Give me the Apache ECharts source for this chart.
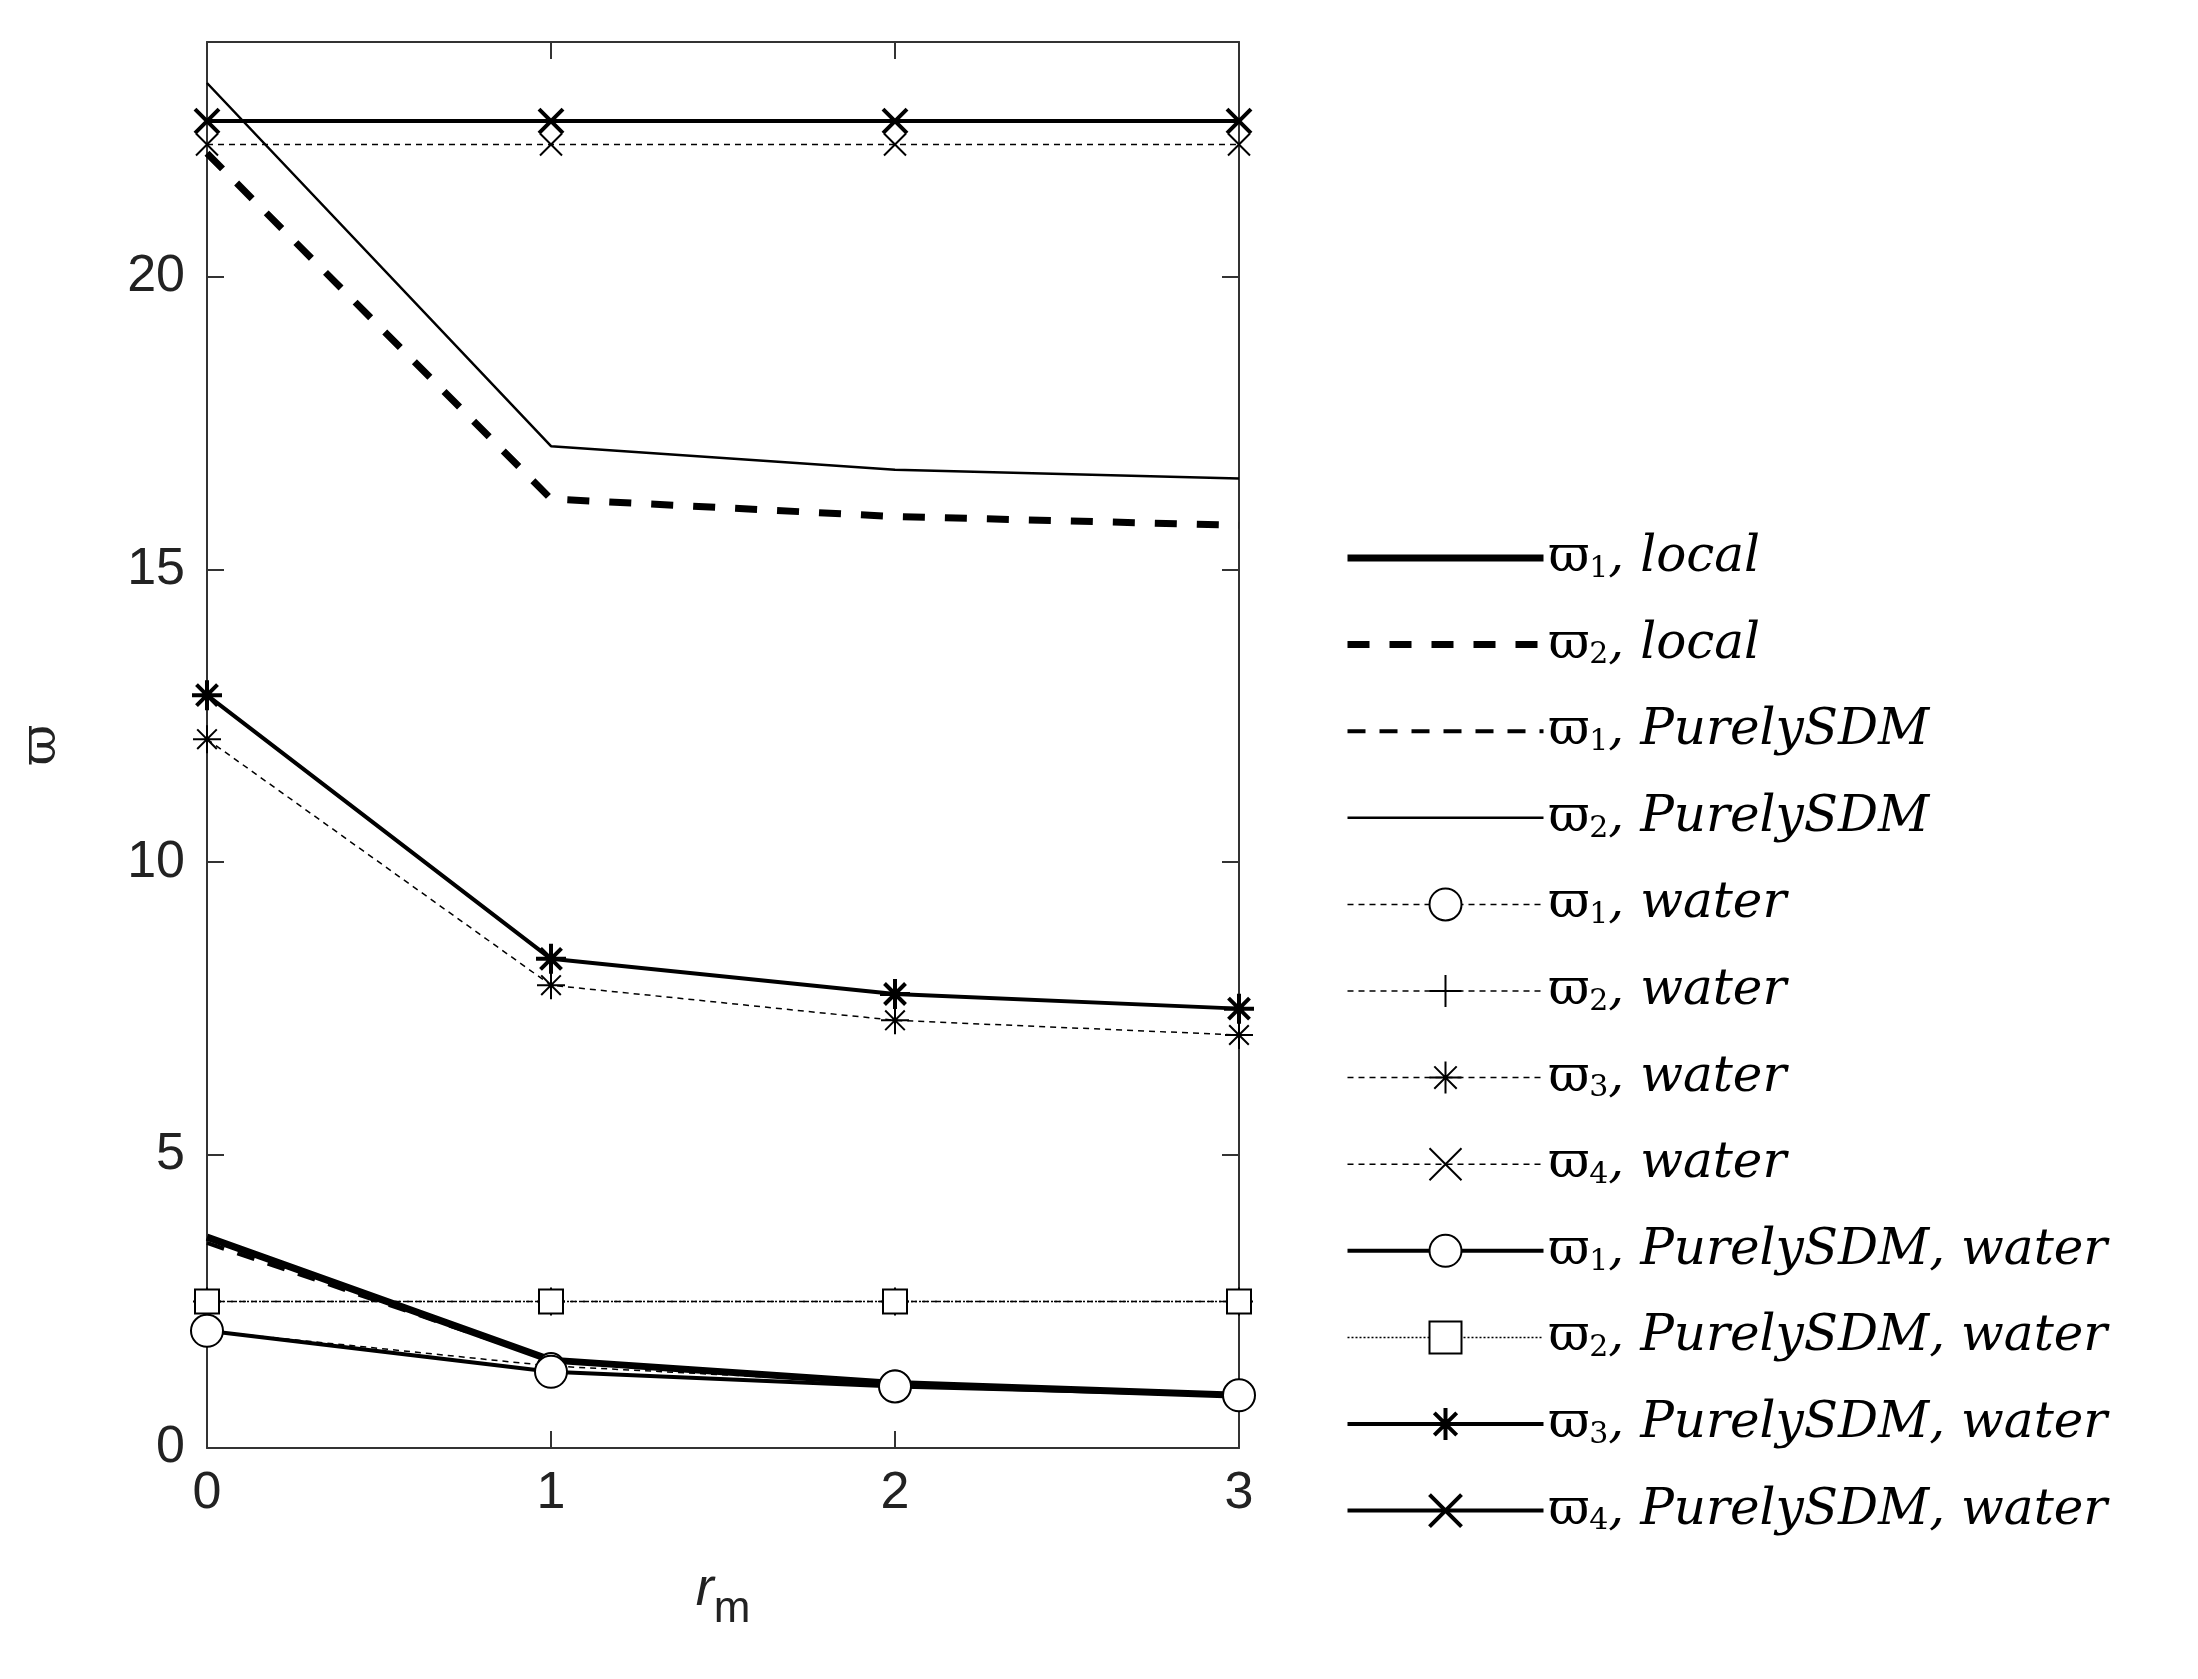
<!DOCTYPE html>
<html><head><meta charset="utf-8">
<script src="https://cdn.jsdelivr.net/npm/echarts@6/dist/echarts.min.js"></script>
<style>html,body{margin:0;background:#fff}#c{width:2198px;height:1679px}</style>
</head><body><div id="c"></div>
<script>
const rm = [0, 1, 2, 3];
const w1Local = [3.6, 1.5, 1.1, 0.9];
const w2Local = [22.1, 16.2, 15.9, 15.75];
const w1Pure = [3.5, 1.5, 1.1, 0.9];
const w2Pure = [23.3, 17.1, 16.7, 16.55];
const w1Water = [2.0, 1.4, 1.1, 0.9];
const w2Water = [2.5, 2.5, 2.5, 2.5];
const w3Water = [12.1, 7.9, 7.3, 7.05];
const w4Water = [22.25, 22.25, 22.25, 22.25];
const w1PW = [2.0, 1.3, 1.05, 0.9];
const w2PW = [2.5, 2.5, 2.5, 2.5];
const w3PW = [12.85, 8.35, 7.75, 7.5];
const w4PW = [22.65, 22.65, 22.65, 22.65];
const yTicks = [0, 5, 10, 15, 20];

const pts = a => rm.map((x, i) => [x, a[i]]);
const PLUS = 'path://M5 0L5 10M0 5L10 5';
const STAR = 'path://M5 0L5 10M0 5L10 5M1.5 1.5L8.5 8.5M1.5 8.5L8.5 1.5';
const XS = 'path://M0 0L10 10M0 10L10 0';
const legendData = [];
function s(name, data, lw, type, sym, size, bw) {
  const ls = {color: '#000', width: lw, type: type};
  const is = {color: '#000', borderColor: '#000', borderWidth: bw || 2};
  legendData.push({name, lineStyle: ls, itemStyle: sym ? is : {opacity: 0, borderWidth: 0}});
  return {
    name, type: 'line', data: pts(data), animation: false,
    lineStyle: ls, symbol: sym || 'none', symbolSize: size || 0, showSymbol: !!sym,
    itemStyle: is, z: 3
  };
}
function lbl(k, txt) { return '{o|ϖ}{s|' + k + '}{t|, ' + txt + '}'; }
const series = [
  s(lbl(1, 'local'), w1Local, 7, 'solid'),
  s(lbl(2, 'local'), w2Local, 7, [22, 20]),
  s(lbl(1, 'PurelySDM'), w1Pure, 4, [18, 14]),
  s(lbl(2, 'PurelySDM'), w2Pure, 2.5, 'solid'),
  s(lbl(1, 'water'), w1Water, 1.5, [6, 5], 'emptyCircle', 26, 1.5),
  s(lbl(2, 'water'), w2Water, 1.5, [6, 5], PLUS, 28, 2),
  s(lbl(3, 'water'), w3Water, 1.5, [6, 5], STAR, 28, 2),
  s(lbl(4, 'water'), w4Water, 1.5, [6, 5], XS, 22, 2),
  s(lbl(1, 'PurelySDM, water'), w1PW, 4, 'solid', 'emptyCircle', 32, 4),
  s(lbl(2, 'PurelySDM, water'), w2PW, 1.5, [2, 2], 'emptyRect', 24, 1.5),
  s(lbl(3, 'PurelySDM, water'), w3PW, 4, 'solid', STAR, 30, 4),
  s(lbl(4, 'PurelySDM, water'), w4PW, 4, 'solid', XS, 24, 4)
];
const axLine = {show: true, onZero: false, lineStyle: {color: '#333', width: 2}};
const tick = {show: true, inside: true, length: 17, lineStyle: {color: '#333', width: 2}};
const yTick = Object.assign({customValues: yTicks}, tick);
const chart = echarts.init(document.getElementById('c'));
chart.setOption({
  backgroundColor: '#fff',
  grid: {left: 207, right: 959, top: 42, bottom: 231},
  xAxis: [
    {type: 'value', min: 0, max: 3, interval: 1, axisLine: axLine, axisTick: tick, splitLine: {show: false},
     axisLabel: {fontSize: 52, color: '#222', margin: 20, fontFamily: 'Liberation Sans'},
     name: '{r|r}{m|m}', nameLocation: 'middle', nameGap: 100,
     nameTextStyle: {rich: {r: {fontSize: 54, fontStyle: 'italic', fontFamily: 'Liberation Sans', color: '#222'},
                            m: {fontSize: 44, fontFamily: 'Liberation Sans', color: '#222', padding: [40, 0, 0, 0]}}}},
    {type: 'value', position: 'top', min: 0, max: 3, interval: 1, axisLine: axLine, axisTick: tick, axisLabel: {show: false}, splitLine: {show: false}}
  ],
  yAxis: [
    {type: 'value', min: 0, max: 24, interval: 5, axisLine: axLine, axisTick: yTick, splitLine: {show: false},
     axisLabel: {fontSize: 52, color: '#222', margin: 22, fontFamily: 'Liberation Sans', customValues: yTicks},
     name: 'ϖ', nameLocation: 'middle', nameGap: 140, nameRotate: 90,
     nameTextStyle: {fontSize: 50, color: '#222', fontFamily: 'DejaVu Serif'}},
    {type: 'value', position: 'right', min: 0, max: 24, interval: 5, axisLine: axLine, axisTick: yTick, axisLabel: {show: false}, splitLine: {show: false}}
  ],
  legend: {
    orient: 'vertical', left: 1339, top: 528, itemWidth: 196, itemHeight: 40, itemGap: 35.6,
    selectedMode: false, data: legendData,
    textStyle: {rich: {
      o: {fontSize: 50, fontFamily: 'DejaVu Serif', color: '#000'},
      s: {fontSize: 30, fontFamily: 'DejaVu Serif', color: '#000', padding: [22, 0, 0, 0]},
      t: {fontSize: 50, fontFamily: 'DejaVu Serif', fontStyle: 'italic', color: '#000'}
    }}
  },
  series
});
</script></body></html>
